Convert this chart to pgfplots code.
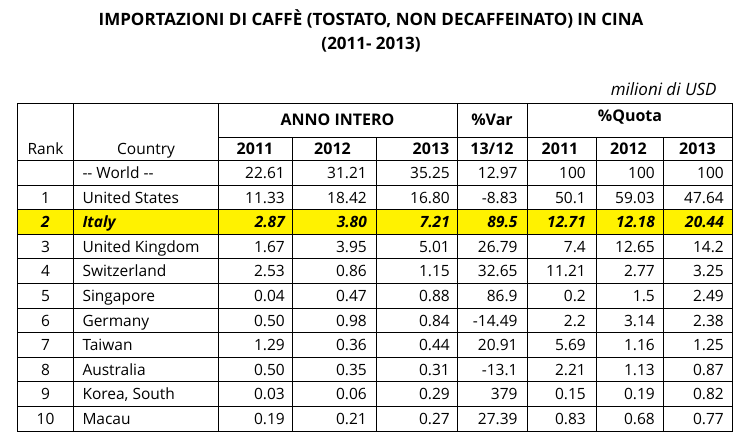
\documentclass[border=0pt]{standalone}
\usepackage{pgfplots}
\pgfplotsset{compat=1.18}
\usepackage{pgfplotstable}
\usepackage{fontspec}
\setmainfont{Open Sans}

\newcommand\body{\fontsize{15.5}{18}\selectfont}
\newcommand\head{\fontsize{16}{18}\selectfont\bfseries}

% righe della tabella (k = indice di riga, Italia a parte)
\pgfplotstableread[col sep=semicolon]{
k;rank;country;a;b;c;var;qa;qb;qc
0;;-{}- World -{}-;22.61;31.21;35.25;12.97;100;100;100
1;1;United States;11.33;18.42;16.80;-8.83;50.1;59.03;47.64
3;3;United Kingdom;1.67;3.95;5.01;26.79;7.4;12.65;14.2
4;4;Switzerland;2.53;0.86;1.15;32.65;11.21;2.77;3.25
5;5;Singapore;0.04;0.47;0.88;86.9;0.2;1.5;2.49
6;6;Germany;0.50;0.98;0.84;-14.49;2.2;3.14;2.38
7;7;Taiwan;1.29;0.36;0.44;20.91;5.69;1.16;1.25
8;8;Australia;0.50;0.35;0.31;-13.1;2.21;1.13;0.87
9;9;Korea, South;0.03;0.06;0.29;379;0.15;0.19;0.82
10;10;Macau;0.19;0.21;0.27;27.39;0.83;0.68;0.77
}\rows

\pgfplotstableread[col sep=semicolon]{
k;rank;country;a;b;c;var;qa;qb;qc
2;2;Italy;2.87;3.80;7.21;89.5;12.71;12.18;20.44
}\italy

% #1 tabella, #2 colonna, #3 x, #4 anchor, #5 font extra
\newcommand\col[5]{%
  \addplot[only marks, mark=*, mark options={opacity=0},
    point meta=explicit symbolic, nodes near coords,
    nodes near coords align={anchor=#4},
    every node near coord/.append style={anchor=#4, inner sep=0pt,
      opacity=1, font=\body#5}]
    table[x expr=#3, y expr={178.5+24.6*\thisrow{k}}, meta=#2] {#1};}

\begin{document}
\begin{tikzpicture}
\begin{axis}[
  scale only axis, width=751pt, height=445pt,
  xmin=0, xmax=751, ymin=0, ymax=445, y dir=reverse,
  axis line style={draw=none}, ticks=none, clip=false,
]
\addplot[draw=none] coordinates {(0,0) (751,445)};

% riga evidenziata
\addplot[fill=yellow, draw=none] coordinates {
  (17.5,209.7) (732,209.7) (732,234.3) (17.5,234.3)};

% griglia
\addplot[black, line width=1pt, line cap=rect, unbounded coords=jump] coordinates {
  (17.5,103) (732,103) (nan,nan)
  (218,137) (732,137) (nan,nan)
  (17.5,160.5) (732,160.5) (nan,nan)
  (17.5,185.1) (732,185.1) (nan,nan)
  (17.5,209.7) (732,209.7) (nan,nan)
  (17.5,234.3) (732,234.3) (nan,nan)
  (17.5,258.9) (732,258.9) (nan,nan)
  (17.5,283.5) (732,283.5) (nan,nan)
  (17.5,308.1) (732,308.1) (nan,nan)
  (17.5,332.7) (732,332.7) (nan,nan)
  (17.5,357.3) (732,357.3) (nan,nan)
  (17.5,381.9) (732,381.9) (nan,nan)
  (17.5,406.5) (732,406.5) (nan,nan)
  (17.5,431.1) (732,431.1) (nan,nan)
  (17.5,103) (17.5,431.1) (nan,nan)
  (73,103) (73,431.1) (nan,nan)
  (218,103) (218,431.1) (nan,nan)
  (292,137) (292,431.1) (nan,nan)
  (376,137) (376,431.1) (nan,nan)
  (457,103) (457,431.1) (nan,nan)
  (527,103) (527,431.1) (nan,nan)
  (596,137) (596,431.1) (nan,nan)
  (663,137) (663,431.1) (nan,nan)
  (732,103) (732,431.1)
};

% intestazioni
\node[anchor=base, font=\fontsize{17}{20}\selectfont\bfseries] at (axis cs:371,25.3)
  {IMPORTAZIONI DI CAFFÈ (TOSTATO, NON DECAFFEINATO) IN CINA};
\node[anchor=base, font=\fontsize{17}{20}\selectfont\bfseries] at (axis cs:371,49)
  {(2011- 2013)};
\node[anchor=base east, font=\fontsize{17}{18}\selectfont\itshape, inner sep=0pt]
  at (axis cs:716.7,95.7) {milioni di USD};
\node[anchor=base, font=\body] at (axis cs:45.5,154) {Rank};
\node[anchor=base, font=\body] at (axis cs:146,154) {Country};
\node[anchor=base, font=\head] at (axis cs:337.5,125) {ANNO INTERO};
\node[anchor=base, font=\head] at (axis cs:492,125.5) {\%Var};
\node[anchor=base, font=\head] at (axis cs:630,121.5) {\%Quota};
\node[anchor=base, font=\head] at (axis cs:255,154) {2011};
\node[anchor=base, font=\head] at (axis cs:332.5,154) {2012};
\node[anchor=base, font=\head] at (axis cs:431,154) {2013};
\node[anchor=base, font=\head] at (axis cs:492,154) {13/12};
\node[anchor=base, font=\head] at (axis cs:560,154) {2011};
\node[anchor=base, font=\head] at (axis cs:628.5,154) {2012};
\node[anchor=base, font=\head] at (axis cs:697.5,154) {2013};

% celle
\col{\rows}{rank}{45.5}{base}{}
\col{\rows}{country}{82.3}{base west}{}
\col{\rows}{a}{285}{base east}{}
\col{\rows}{b}{367}{base east}{}
\col{\rows}{c}{450}{base east}{}
\col{\rows}{var}{517.7}{base east}{}
\col{\rows}{qa}{586}{base east}{}
\col{\rows}{qb}{655}{base east}{}
\col{\rows}{qc}{724}{base east}{}

\col{\italy}{rank}{45.5}{base}{\bfseries\itshape}
\col{\italy}{country}{82.3}{base west}{\bfseries\itshape}
\col{\italy}{a}{285}{base east}{\bfseries\itshape}
\col{\italy}{b}{367}{base east}{\bfseries\itshape}
\col{\italy}{c}{450}{base east}{\bfseries\itshape}
\col{\italy}{var}{517.7}{base east}{\bfseries\itshape}
\col{\italy}{qa}{586}{base east}{\bfseries\itshape}
\col{\italy}{qb}{655}{base east}{\bfseries\itshape}
\col{\italy}{qc}{724}{base east}{\bfseries\itshape}
\end{axis}
\end{tikzpicture}
\end{document}
